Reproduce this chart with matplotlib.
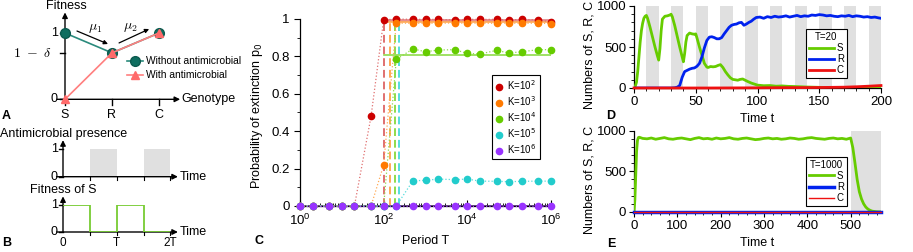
import numpy as np
import matplotlib.pyplot as plt
from matplotlib.ticker import FixedLocator, LogLocator, MultipleLocator, NullFormatter, FuncFormatter

plt.rcParams['font.family'] = ['Liberation Sans', 'DejaVu Sans']
plt.rcParams['font.size'] = 9
plt.rcParams['axes.linewidth'] = 0.9

W, H = 913, 252

# panel A: fitness landscape
genotypes = ['S', 'R', 'C']
fit_without = [1.0, 0.7, 1.0]
fit_with = [0.0, 0.7, 1.0]

# panel B: one antimicrobial cycle, time in units of T
drug_on = [(0.5, 1.0), (1.5, 2.0)]
b_time = [0, 0.5, 1, 1.5, 2]
b_fitS = [1, 0, 1, 0, 0]

# panel C: extinction probability vs period
T_vals = [1, 2, 5, 10, 20, 50, 100, 200, 500, 1e3, 2e3, 5e3, 1e4, 2e4, 5e4, 1e5, 2e5, 5e5, 1e6]
p_K2 = [0, 0, 0, 0, 0, 0.48, 0.995, 1.0, 0.998, 0.998, 0.998, 0.995, 0.998, 0.998, 0.998, 0.995, 0.998, 0.995, 0.985]
p_K3 = [0, 0, 0, 0, 0, 0, 0.22, 0.978, 0.977, 0.978, 0.977, 0.979, 0.977, 0.978, 0.977, 0.978, 0.977, 0.978, 0.975]
p_K4 = [0, 0, 0, 0, 0, 0, 0, 0.784, 0.84, 0.825, 0.834, 0.836, 0.816, 0.813, 0.832, 0.818, 0.825, 0.836, 0.836]
p_K5 = [0, 0, 0, 0, 0, 0, 0, 0, 0.135, 0.137, 0.144, 0.141, 0.144, 0.133, 0.132, 0.130, 0.132, 0.133, 0.133]
p_K6 = [0] * 19
K_labels = ['K=10$^2$', 'K=10$^3$', 'K=10$^4$', 'K=10$^5$', 'K=10$^6$']
T_threshold = [100, 145, 186, 236]
p_theory = [0.995, 0.982, 0.806, 0.0, 0.0]
c_colors = ['#cc0000', '#ff7a00', '#66cc00', '#22cccc', '#9933ff']
c_light = ['#e07070', '#ffaa55', '#8fdc4a', '#55dddd', '#553377']

# panel D: T = 20
period_D = 20
t_S_D = [0, 1, 2, 3, 4, 5, 6, 7, 8, 9, 10, 11, 13, 15, 17, 19, 20, 21, 22, 23, 25, 27, 29,
         30, 31, 33, 35, 37, 39, 40, 41, 42, 43, 45, 47, 49, 50, 51, 53, 55, 57, 59,
         60, 62, 64, 66, 68, 70, 72, 74, 76, 78, 80, 82, 84, 86, 88, 90, 92, 95, 98,
         100, 105, 110, 115, 120, 125, 130, 135, 140, 150, 160, 170, 180, 190, 200]
S_D = [0, 20, 70, 200, 380, 560, 700, 790, 850, 875, 885, 850, 740, 620, 500, 390, 340, 480, 700, 840, 875, 880, 890,
       900, 870, 760, 630, 500, 380, 320, 420, 560, 640, 670, 660, 655, 660, 610, 500, 400, 300, 255,
       250, 262, 258, 262, 275, 285, 250, 200, 160, 125, 105, 100, 95, 105, 110, 95, 80, 60, 45,
       35, 28, 30, 22, 25, 20, 18, 15, 12, 8, 6, 5, 4, 3, 2]
t_R_D = [0, 30, 33, 35, 37, 39, 41, 43, 45, 47, 49, 51, 53, 55, 57, 59, 61, 63, 65, 67, 69,
         71, 73, 75, 77, 79, 81, 83, 85, 87, 89, 91, 93, 95, 97, 99,
         102, 105, 108, 111, 114, 117, 120, 123, 126, 129, 132, 135, 138, 141, 144, 147, 150,
         153, 156, 159, 162, 165, 168, 171, 174, 177, 180, 183, 186, 189, 192, 195, 198, 200]
R_D = [0, 0, 3, 10, 30, 130, 200, 215, 230, 240, 245, 265, 300, 380, 490, 580, 620, 625, 615, 600, 600,
       615, 660, 700, 740, 765, 775, 780, 795, 800, 765, 780, 800, 815, 840, 860,
       865, 850, 870, 860, 875, 865, 870, 880, 865, 875, 885, 870, 880, 875, 890, 885, 895,
       890, 880, 885, 875, 870, 880, 875, 885, 870, 880, 875, 865, 870, 860, 865, 855, 850]
t_C_D = [0, 60, 100, 120, 140, 150, 160, 170, 180, 190, 200]
C_D = [0, 0, 2, 4, 5, 6, 8, 10, 15, 22, 30]

# panel E: T = 1000
drug_E = (500, 570)
t_S_E = [0, 2, 4, 6, 8, 10, 12] + list(range(20, 500, 10)) + \
        [500, 505, 510, 515, 520, 525, 530, 535, 540, 545, 550, 560, 570]
S_E = [0, 150, 450, 750, 880, 915, 920,
       905, 900, 910, 895, 905, 915, 900, 895, 905, 910,
       900, 890, 905, 915, 900, 905, 895, 910, 900, 905,
       915, 900, 895, 905, 910, 900, 890, 895, 905, 910,
       900, 905, 895, 900, 910, 905, 895, 900, 910, 915,
       905, 900, 895, 905, 910, 900, 905, 895,
       910, 790, 600, 400, 250, 160, 100, 60, 35, 20, 10, 3, 1]
t_RC_E = [0, 570]
R_E = [0, 0]
C_E = [0, 0]

GREEN, BLUE, RED = '#66cc00', '#0022ee', '#ee1111'
GREY = '#e0e0e0'


def box(x0, y0, x1, y1):
    return [x0 / W, 1 - y1 / H, (x1 - x0) / W, (y1 - y0) / H]


def ftext(x, y, s, **kw):
    fig.text(x / W, 1 - y / H, s, **kw)


def arrow(ax, x0, y0, x1, y1, lw=1.0, ms=8):
    ax.annotate('', xy=(x1, y1), xytext=(x0, y0), annotation_clip=False,
                arrowprops=dict(arrowstyle='-|>', lw=lw, color='k', mutation_scale=ms,
                                shrinkA=0, shrinkB=0))


fig = plt.figure(figsize=(9.13, 2.52), dpi=100)

# ---------------- A
axA = fig.add_axes(box(65, 33, 159, 99.3))
axA.set_xlim(0, 2)
axA.set_ylim(0, 1)
axA.axis('off')
arrow(axA, 0, 0, 0, 1.31)
arrow(axA, -0.17, 0, 2.45, 0)
for y in [0, 0.7, 1]:
    axA.plot([-0.1, 0], [y, y], 'k', lw=1, clip_on=False)
for i, g in enumerate(genotypes):
    axA.plot([i, i], [0, -0.08], 'k', lw=1, clip_on=False)
    axA.text(i, -0.24, g, ha='center', va='center', fontsize=9)
axA.plot(range(3), fit_without, color='#2a8a7c', lw=1.2, marker='o', ms=7,
         mfc='#0f6e60', mec='#0b5a4e', clip_on=False, zorder=3)
axA.plot(range(3), fit_with, color='#ff7f7f', lw=1.2, marker='^', ms=6,
         mfc='#ff6a6a', mec='#ff6a6a', clip_on=False, zorder=4)
axA.text(-0.23, 1, '1', ha='center', va='center', fontsize=9)
axA.text(-0.23, 0, '0', ha='center', va='center', fontsize=9)
axA.text(-0.7, 0.7, r'$1\ -\ \delta$', ha='center', va='center', fontsize=10, math_fontfamily='cm')
axA.text(0.02, 1.41, 'Fitness', ha='center', va='center', fontsize=9)
axA.text(2.47, 0, 'Genotype', ha='left', va='center', fontsize=9)
arrow(axA, 0.255, 1.03, 0.915, 0.834, lw=0.9, ms=6)
arrow(axA, 1.15, 0.85, 1.79, 1.06, lw=0.9, ms=6)
axA.text(0.64, 1.08, r'$\mu_1$', ha='center', va='center', fontsize=10, math_fontfamily='cm')
axA.text(1.38, 1.09, r'$\mu_2$', ha='center', va='center', fontsize=10, math_fontfamily='cm')
axA.plot([1.32, 1.66], [0.578, 0.578], color='#2a8a7c', lw=1.2, clip_on=False)
axA.plot([1.49], [0.578], 'o', ms=7, mfc='#0f6e60', mec='#0b5a4e', clip_on=False)
axA.plot([1.32, 1.66], [0.367, 0.367], color='#ff7f7f', lw=1.2, clip_on=False)
axA.plot([1.49], [0.367], '^', ms=6, color='#ff6a6a', clip_on=False)
axA.text(1.72, 0.578, 'Without antimicrobial', ha='left', va='center', fontsize=7.4)
axA.text(1.72, 0.367, 'With antimicrobial', ha='left', va='center', fontsize=7.4)
ftext(2, 116, 'A', fontweight='bold', fontsize=9, ha='left', va='center')

# ---------------- B
axB1 = fig.add_axes(box(63, 149, 170.4, 176.7))
axB2 = fig.add_axes(box(63, 205, 170.4, 232))
for ax in (axB1, axB2):
    ax.set_xlim(0, 2)
    ax.set_ylim(0, 1)
    ax.axis('off')
    arrow(ax, 0, 0, 0, 1.32)
    arrow(ax, -0.12, 0, 2.14, 0)
    for y in [0, 1]:
        ax.plot([-0.08, 0], [y, y], 'k', lw=1, clip_on=False)
    for x in [0.5, 1, 1.5, 2]:
        ax.plot([x, x], [0, -0.12], 'k', lw=0.8, clip_on=False)
    ax.text(-0.16, 1, '1', ha='center', va='center', fontsize=9)
    ax.text(-0.16, 0, '0', ha='center', va='center', fontsize=9)
    ax.text(2.18, 0, 'Time', ha='left', va='center', fontsize=9)
for a, b in drug_on:
    axB1.axvspan(a, b, color=GREY, lw=0, zorder=0)
axB2.plot(b_time, b_fitS, drawstyle='steps-post', color='#77cc33', lw=1.3, zorder=3)
for x, s in zip([0, 1, 2], ['0', 'T', '2T']):
    axB2.text(x, -0.41, s, ha='center', va='center', fontsize=8.5)
ftext(0, 134, 'Antimicrobial presence', ha='left', va='center', fontsize=9)
ftext(30, 190, 'Fitness of S', ha='left', va='center', fontsize=9)
ftext(2, 243, 'B', fontweight='bold', fontsize=9, ha='left', va='center')

# ---------------- C
axC = fig.add_axes(box(300, 19, 551, 206))
axC.set_xscale('log')
axC.set_xlim(1, 1e6)
axC.set_ylim(0, 1)
all_p = [p_K2, p_K3, p_K4, p_K5, p_K6]
for k, thr in enumerate(T_threshold):
    axC.plot([thr, thr], [0, 0.995], ls=(0, (4, 2)), color=c_light[k], lw=1.4, zorder=2)
for k in range(3):
    axC.plot([100, 1e6], [p_theory[k], p_theory[k]], color=c_light[k],
             lw=2.0 if k == 0 else 1.2, alpha=0.8 if k == 0 else 1, zorder=2)
axC.plot([1, 1e6], [0, 0], color=c_light[4], lw=1.2, zorder=2, clip_on=False)
for k, p in enumerate(all_p):
    axC.plot(T_vals, p, ls=':', color=c_light[k] if k < 4 else c_colors[4], lw=0.9, zorder=3, clip_on=False)
for k, p in enumerate(all_p):
    axC.plot(T_vals, p, 'o', color=c_colors[k], ms=4.5, zorder=4, clip_on=False, label=K_labels[k])
axC.spines['top'].set_visible(False)
axC.spines['right'].set_visible(False)
axC.xaxis.set_major_locator(FixedLocator([1, 1e2, 1e4, 1e6]))
axC.xaxis.set_minor_locator(LogLocator(base=10, subs=np.arange(1, 10), numticks=30))
axC.xaxis.set_minor_formatter(NullFormatter())
axC.yaxis.set_major_locator(MultipleLocator(0.2))
axC.yaxis.set_minor_locator(MultipleLocator(0.1))
axC.yaxis.set_major_formatter(FuncFormatter(lambda v, p: f'{v:g}'))
axC.tick_params(axis='x', which='major', direction='in', length=4, labelsize=9.5, pad=5)
axC.tick_params(axis='x', which='minor', direction='in', length=2.5)
axC.tick_params(axis='y', which='major', direction='out', length=4, labelsize=9.5)
axC.tick_params(axis='y', which='minor', direction='out', length=2.5)
axC.set_ylabel('Probability of extinction p$_0$', fontsize=9)
axC.yaxis.set_label_coords(-0.14, 0.48)
axC.set_xlabel('Period T', fontsize=9, va='top')
axC.xaxis.set_label_coords(0.5, -0.155)
leg = axC.legend(loc='upper left', bbox_to_anchor=(0.765, 0.70), fancybox=False, edgecolor='k',
                 fontsize=7, handlelength=0.8, handletextpad=0.4, borderpad=0.35,
                 labelspacing=0.22, framealpha=1, borderaxespad=0)
leg.get_frame().set_linewidth(0.8)
ftext(259, 241, 'C', fontweight='bold', fontsize=9, ha='center', va='center')

# ---------------- D and E
axD = fig.add_axes(box(634, 6, 881, 88))
axE = fig.add_axes(box(634, 130.7, 881, 212))
for k in range(int(200 / period_D)):
    axD.axvspan(k * period_D + period_D / 2, (k + 1) * period_D, color=GREY, lw=0, zorder=0)
axE.axvspan(drug_E[0], drug_E[1], color=GREY, lw=0, zorder=0)

axD.plot(t_S_D, S_D, color=GREEN, lw=2.0, label='S', zorder=3)
axD.plot(t_R_D, R_D, color=BLUE, lw=2.0, label='R', zorder=3)
axD.plot(t_C_D, C_D, color=RED, lw=2.0, label='C', zorder=4, clip_on=False)
axE.plot(t_S_E, S_E, color=GREEN, lw=2.0, label='S', zorder=3)
axE.plot(t_RC_E, R_E, color=BLUE, lw=2.5, label='R', zorder=3, clip_on=False)
axE.plot(t_RC_E, C_E, color=RED, lw=1.0, label='C', zorder=4, clip_on=False)

axD.set_xlim(0, 200)
axE.set_xlim(0, 570)
for ax, title, anchor in ((axD, 'T=20', 0.72), (axE, 'T=1000', 0.68)):
    ax.set_ylim(0, 1000)
    ax.spines['top'].set_visible(False)
    ax.spines['right'].set_visible(False)
    ax.xaxis.set_major_locator(MultipleLocator(50 if ax is axD else 100))
    ax.xaxis.set_minor_locator(MultipleLocator(10 if ax is axD else 20))
    ax.yaxis.set_major_locator(MultipleLocator(500))
    ax.yaxis.set_minor_locator(MultipleLocator(100))
    ax.tick_params(which='major', direction='out', length=3.5, labelsize=9.5, pad=2)
    ax.tick_params(which='minor', direction='out', length=2)
    ax.set_ylabel('Numbers of S, R, C', fontsize=9)
    ax.yaxis.set_label_coords(-0.155, 0.4)
    ax.set_xlabel('Time t', fontsize=9, va='top')
    ax.xaxis.set_label_coords(0.5, -0.31)
    lg = ax.legend(title=title, loc='upper left', bbox_to_anchor=(0.695, anchor), fancybox=False,
                   edgecolor='k', fontsize=7, title_fontsize=7, handlelength=2.6,
                   handletextpad=0.3, borderpad=0.3, labelspacing=0.12, framealpha=1,
                   borderaxespad=0, markerfirst=True)
    lg.get_frame().set_linewidth(0.8)
ftext(611, 116, 'D', fontweight='bold', fontsize=9, ha='center', va='center')
ftext(611, 244, 'E', fontweight='bold', fontsize=9, ha='center', va='center')

fig.savefig('out.png', dpi=100)
